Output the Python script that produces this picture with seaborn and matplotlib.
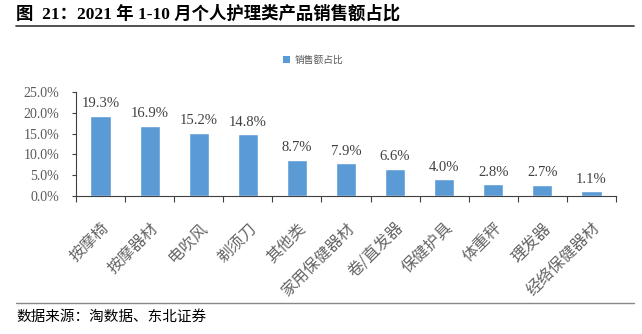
import matplotlib
matplotlib.use("Agg")
import matplotlib.pyplot as plt
from matplotlib.patches import Patch
from matplotlib.lines import Line2D
import seaborn as sns
import pandas as pd

categories = ["按摩椅", "按摩器材", "电吹风", "剃须刀", "其他类", "家用保健器材",
              "卷/直发器", "保健护具", "体重秤", "理发器", "经络保健器材"]
shares = [19.3, 16.9, 15.2, 14.8, 8.7, 7.9, 6.6, 4.0, 2.8, 2.7, 1.1]
y_ticks = [0, 5, 10, 15, 20, 25]
series_name = "销售额占比"
title_text = "图  21：2021 年 1-10 月个人护理类产品销售额占比"
source_text = "数据来源：淘数据、东北证券"

sns.set_theme(style="white")
plt.rcParams["font.family"] = ["Liberation Serif", "Noto Sans CJK SC", "DejaVu Sans"]

bar_color = "#5B9BD5"
text_grey = "#595959"
cjk = ["Noto Sans CJK SC", "DejaVu Sans"]

df = pd.DataFrame({"cat": categories, "share": shares})

W, H = 642, 334
fig = plt.figure(figsize=(W / 100, H / 100), dpi=100)
fig.patch.set_facecolor("white")

x0, x1, ytop, ybot = 76, 616, 92, 196
ax = fig.add_axes([x0 / W, 1 - ybot / H, (x1 - x0) / W, (ybot - ytop) / H])

sns.barplot(data=df, x="cat", y="share", color=bar_color, width=0.41,
            saturation=1, ax=ax)

ax.set_xlim(-0.5, len(categories) - 0.5)
ax.set_ylim(0, 25)
ax.set_yticks(y_ticks)
ax.set_yticklabels([f"{v:.1f}%" for v in y_ticks], fontsize=10, color=text_grey,
                   family="Liberation Serif")
ax.set_xlabel("")
ax.set_ylabel("")

# category labels, rotated 45 degrees
ax.set_xticks(range(len(categories)))
ax.set_xticklabels(categories, rotation=45, ha="right", va="top",
                   rotation_mode="anchor", fontsize=11.5, color="#666666", family=cjk)
ax.tick_params(axis="x", length=0, pad=17)
ax.tick_params(axis="y", length=3, width=0.8, color="#404040", pad=9, left=True,
               direction="out")

# tick marks between categories on the x axis
ax.set_xticks([i - 0.5 for i in range(len(categories) + 1)], minor=True)
ax.tick_params(axis="x", which="minor", length=4, width=0.8, color="#404040",
               direction="out", bottom=True)

for s in ["top", "right"]:
    ax.spines[s].set_visible(False)
for s in ["left", "bottom"]:
    ax.spines[s].set_color("#404040")
    ax.spines[s].set_linewidth(0.8)

# value labels above bars
for i, v in enumerate(shares):
    ax.text(i, v + 1.3, f"{v:.1f}%", ha="center", va="bottom", fontsize=10.5,
            color="#404040", family="Liberation Serif")

# legend
handle = Patch(facecolor=bar_color, edgecolor="none")
fig.legend([handle], [series_name], loc="center", bbox_to_anchor=(313 / W, 1 - 60 / H),
           frameon=False, handlelength=0.7, handleheight=0.7, handletextpad=0.5,
           prop={"family": cjk, "size": 7}, labelcolor=text_grey)

# title, rules and source note
fig.text(16 / W, 1 - 14 / H, title_text, ha="left", va="center", fontsize=12.5,
         fontweight="bold", color="black")
fig.add_artist(Line2D([16 / W, 634 / W], [1 - 25.5 / H, 1 - 25.5 / H],
                      color="#333333", linewidth=1.2, transform=fig.transFigure))
fig.add_artist(Line2D([16 / W, 634 / W], [1 - 303 / H, 1 - 303 / H],
                      color="#888888", linewidth=1.0, transform=fig.transFigure))
fig.text(16 / W, 1 - 317 / H, source_text, ha="left", va="center", fontsize=10.5,
         color="black", family=cjk)

fig.savefig("out.png", dpi=100, facecolor="white")
